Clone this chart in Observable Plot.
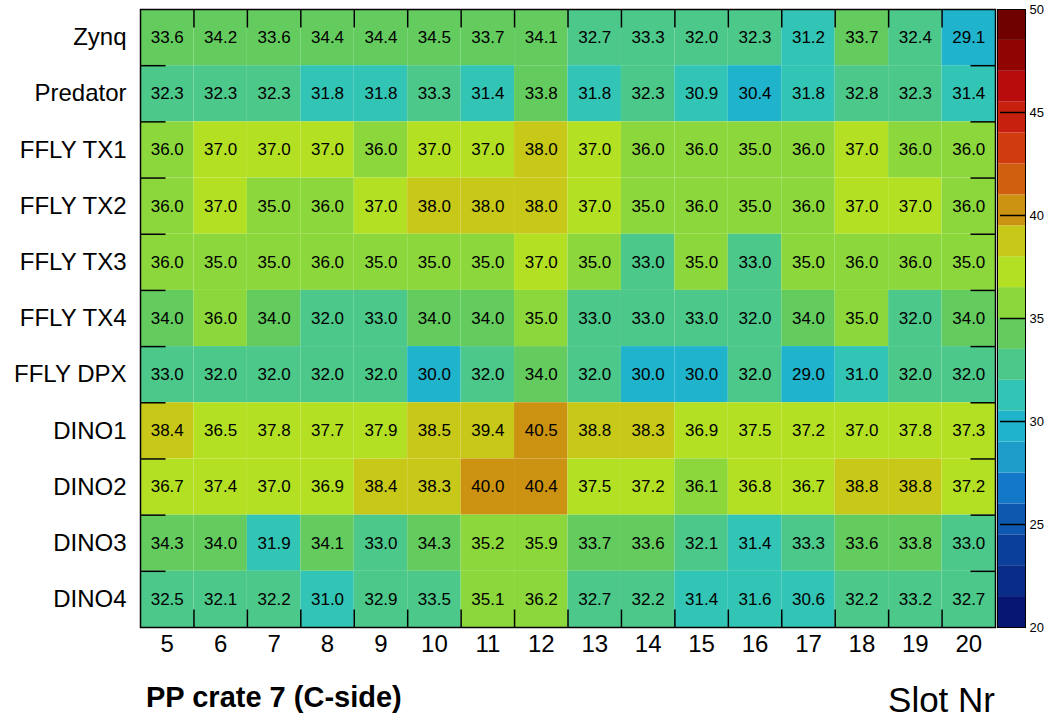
<!DOCTYPE html>
<html>
<head>
<meta charset="utf-8">
<script src="https://cdn.jsdelivr.net/npm/d3@7"></script>
<script src="https://cdn.jsdelivr.net/npm/@observablehq/plot@0.6"></script>
<style>
  html, body { margin: 0; padding: 0; background: #fff; overflow: hidden; }
  #wrap { position: relative; width: 1051px; height: 720px; overflow: hidden; font-family: "Liberation Sans", Arial, sans-serif; }
  #wrap svg { position: absolute; top: 0; }
  .lbl { position: absolute; line-height: 1; white-space: nowrap; color: #000; }
</style>
</head>
<body>
<div id="wrap"></div>
<script>
// ---- data ----
const slots = [5, 6, 7, 8, 9, 10, 11, 12, 13, 14, 15, 16, 17, 18, 19, 20];
const rows = ["Zynq", "Predator", "FFLY TX1", "FFLY TX2", "FFLY TX3", "FFLY TX4", "FFLY DPX", "DINO1", "DINO2", "DINO3", "DINO4"];
const zynq     = [33.6, 34.2, 33.6, 34.4, 34.4, 34.5, 33.7, 34.1, 32.7, 33.3, 32.0, 32.3, 31.2, 33.7, 32.4, 29.1];
const predator = [32.3, 32.3, 32.3, 31.8, 31.8, 33.3, 31.4, 33.8, 31.8, 32.3, 30.9, 30.4, 31.8, 32.8, 32.3, 31.4];
const fflyTx1  = [36.0, 37.0, 37.0, 37.0, 36.0, 37.0, 37.0, 38.0, 37.0, 36.0, 36.0, 35.0, 36.0, 37.0, 36.0, 36.0];
const fflyTx2  = [36.0, 37.0, 35.0, 36.0, 37.0, 38.0, 38.0, 38.0, 37.0, 35.0, 36.0, 35.0, 36.0, 37.0, 37.0, 36.0];
const fflyTx3  = [36.0, 35.0, 35.0, 36.0, 35.0, 35.0, 35.0, 37.0, 35.0, 33.0, 35.0, 33.0, 35.0, 36.0, 36.0, 35.0];
const fflyTx4  = [34.0, 36.0, 34.0, 32.0, 33.0, 34.0, 34.0, 35.0, 33.0, 33.0, 33.0, 32.0, 34.0, 35.0, 32.0, 34.0];
const fflyDpx  = [33.0, 32.0, 32.0, 32.0, 32.0, 30.0, 32.0, 34.0, 32.0, 30.0, 30.0, 32.0, 29.0, 31.0, 32.0, 32.0];
const dino1    = [38.4, 36.5, 37.8, 37.7, 37.9, 38.5, 39.4, 40.5, 38.8, 38.3, 36.9, 37.5, 37.2, 37.0, 37.8, 37.3];
const dino2    = [36.7, 37.4, 37.0, 36.9, 38.4, 38.3, 40.0, 40.4, 37.5, 37.2, 36.1, 36.8, 36.7, 38.8, 38.8, 37.2];
const dino3    = [34.3, 34.0, 31.9, 34.1, 33.0, 34.3, 35.2, 35.9, 33.7, 33.6, 32.1, 31.4, 33.3, 33.6, 33.8, 33.0];
const dino4    = [32.5, 32.1, 32.2, 31.0, 32.9, 33.47, 35.1, 36.2, 32.7, 32.2, 31.4, 31.6, 30.6, 32.2, 33.2, 32.7];
const series = [zynq, predator, fflyTx1, fflyTx2, fflyTx3, fflyTx4, fflyDpx, dino1, dino2, dino3, dino4];

// colour levels (20 contours, 20..50) and palette, low -> high
const levels = [20, 21.5, 23, 24.5, 26, 27.5, 29, 30.5, 32, 33.5, 35, 36.5, 38, 39.5, 41, 42.5, 44, 45.5, 47, 48.5, 50];
const palette = ["#061672", "#082c88", "#0a409c", "#0e58b0", "#1478c8", "#1c9cc8", "#20b4cc", "#32c4b4",
                 "#4cc88a", "#64cc5e", "#8cd83c", "#b4e024", "#c8c818", "#cc9212", "#d06010", "#d03c0e",
                 "#c8200e", "#b80c0c", "#900404", "#6e0000"];
const barTicks = [20, 25, 30, 35, 40, 45, 50];

// ---- build ----
const W = 1051, H = 720, ML = 140, MR = 56, MT = 9, MB = 93;
const plotW = W - ML - MR, plotH = H - MT - MB;
const cells = [];
series.forEach((vals, r) => vals.forEach((v, c) => cells.push({row: r, slot: slots[c], value: v})));
const rowIdx = rows.map((_, i) => i);
const xEdges = slots.slice(0, -1).map(s => s + 0.5);
const yEdges = rowIdx.slice(0, -1).map(i => i + 0.5);
const xLo = slots[0] - 0.5, xHi = slots[slots.length - 1] + 0.5;
const yLo = -0.5, yHi = rows.length - 0.5;
// inward tick lengths (18 px on x, 25 px on y) expressed in data units
const tx = 18 * (yHi - yLo) / plotH;
const ty = 25 * (xHi - xLo) / plotW;
const bands = levels.slice(0, -1).map((lo, i) => ({lo, hi: levels[i + 1]}));

const colorOpts = {type: "threshold", domain: levels.slice(1, -1), range: palette};
const font = "'Liberation Sans', Arial, sans-serif";
const tickStyle = {stroke: "#000", strokeWidth: 1.5, strokeOpacity: 1};

const main = Plot.plot({
  width: W, height: H,
  marginLeft: ML, marginRight: MR, marginTop: MT, marginBottom: MB,
  style: {fontFamily: font, color: "#000", background: "transparent"},
  x: {domain: [xLo, xHi]},
  y: {domain: [yLo, yHi], reverse: true},
  color: colorOpts,
  marks: [
    Plot.rect(cells, {x1: d => d.slot - 0.5, x2: d => d.slot + 0.5, y1: d => d.row - 0.5, y2: d => d.row + 0.5, fill: "value"}),
    Plot.text(cells, {x: "slot", y: "row", text: d => d.value.toFixed(1), fontSize: 17, fill: "#000"}),
    Plot.axisX({ticks: slots, anchor: "bottom", tickSize: 0, tickPadding: 7, fontSize: 24, tickFormat: d => String(d), label: null}),
    Plot.axisY({ticks: rowIdx, anchor: "left", tickSize: 0, tickPadding: 14, fontSize: 24, tickFormat: i => rows[i], label: null}),
    Plot.link(xEdges, {x1: d => d, x2: d => d, y1: yHi, y2: yHi - tx, ...tickStyle}),
    Plot.link(xEdges, {x1: d => d, x2: d => d, y1: yLo, y2: yLo + tx, ...tickStyle}),
    Plot.link(yEdges, {x1: xLo, x2: xLo + ty, y1: d => d, y2: d => d, ...tickStyle}),
    Plot.link(yEdges, {x1: xHi, x2: xHi - ty, y1: d => d, y2: d => d, ...tickStyle}),
    Plot.frame({stroke: "#000", strokeWidth: 1.5})
  ]
});
main.style.left = "0px";

const bar = Plot.plot({
  width: 54, height: H,
  marginLeft: 0, marginRight: 26, marginTop: MT, marginBottom: MB,
  style: {fontFamily: font, color: "#000", background: "transparent", overflow: "visible"},
  x: {domain: [0, 1], axis: null},
  y: {domain: [20, 50]},
  color: colorOpts,
  marks: [
    Plot.rect(bands, {x1: 0, x2: 1, y1: "lo", y2: "hi", fill: "lo"}),
    Plot.ruleY(barTicks.slice(1, -1), {insetLeft: 3, stroke: "#000", strokeWidth: 1.5}),
    Plot.axisY({ticks: barTicks, anchor: "right", tickSize: 0, tickPadding: 4, fontSize: 13, label: null}),
    Plot.frame({stroke: "#000", strokeWidth: 1})
  ]
});
bar.style.left = "997px";

const wrap = document.getElementById("wrap");
wrap.appendChild(main);
wrap.appendChild(bar);

const t1 = document.createElement("div");
t1.className = "lbl";
t1.textContent = "PP crate 7 (C-side)";
t1.style.cssText += "left:146px;top:683px;font-size:29px;font-weight:bold;";
wrap.appendChild(t1);

const t2 = document.createElement("div");
t2.className = "lbl";
t2.textContent = "Slot Nr";
t2.style.cssText += "right:56px;top:682px;font-size:35px;";
wrap.appendChild(t2);
</script>
</body>
</html>
